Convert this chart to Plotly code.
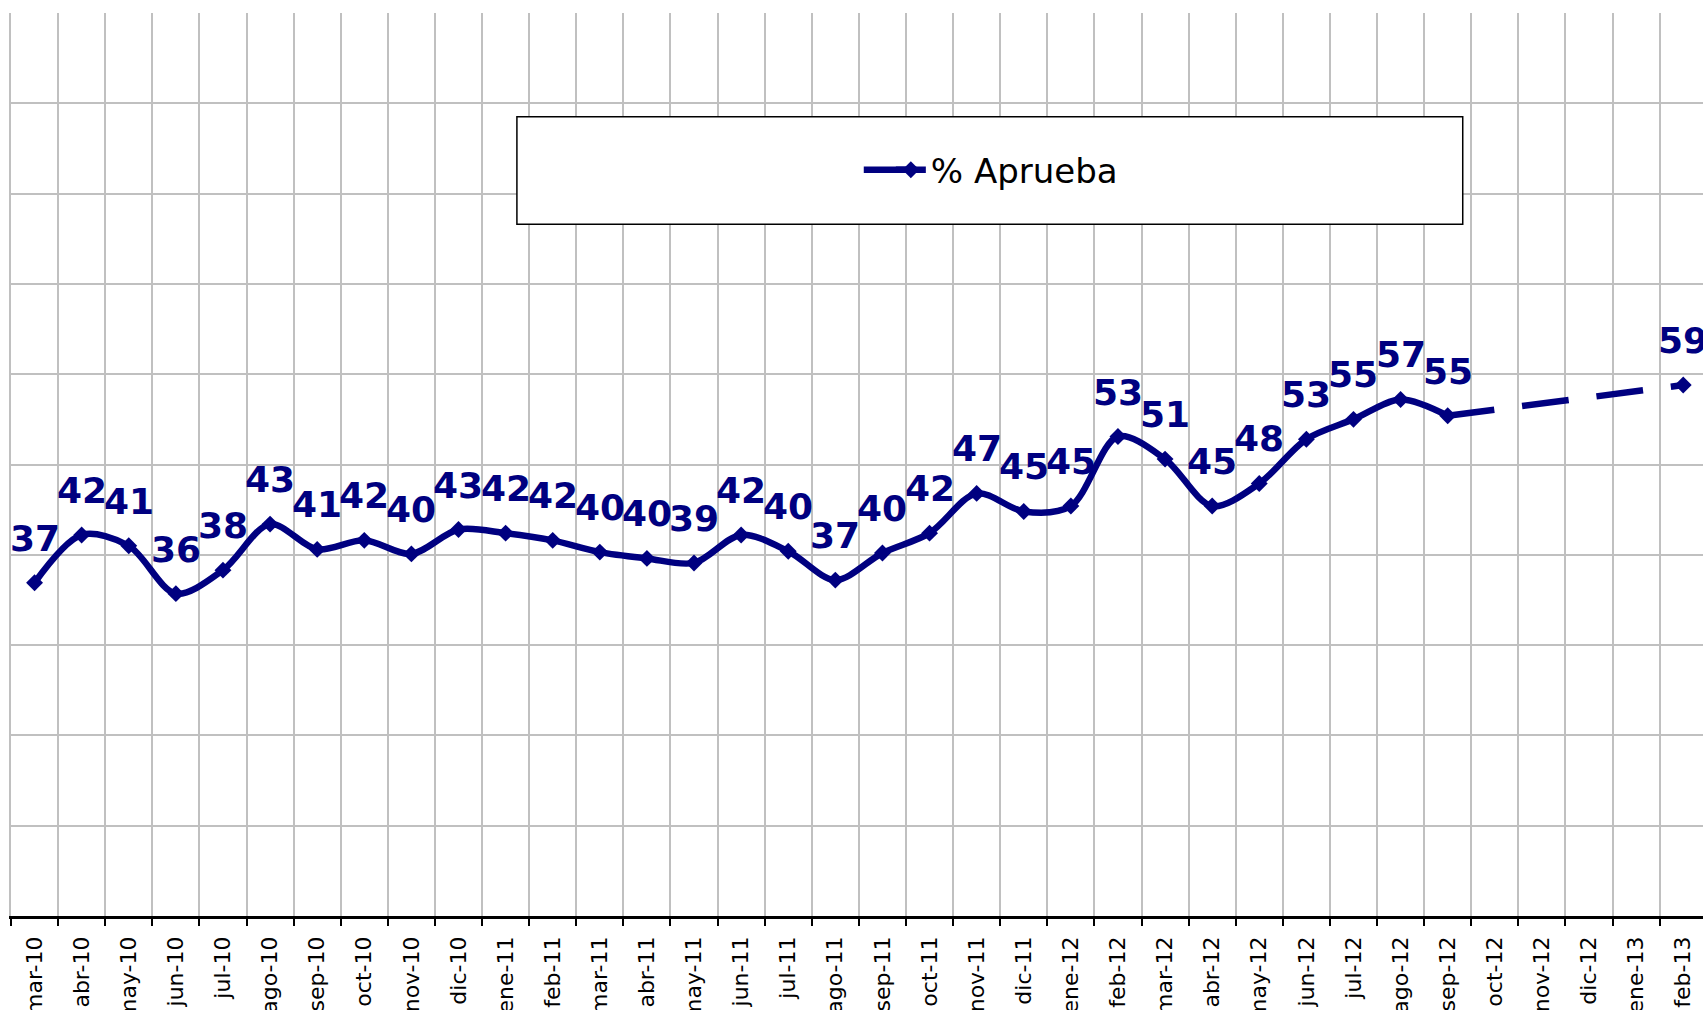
import plotly.graph_objects as go

months = ["mar-10", "abr-10", "may-10", "jun-10", "jul-10", "ago-10", "sep-10", "oct-10",
          "nov-10", "dic-10", "ene-11", "feb-11", "mar-11", "abr-11", "may-11", "jun-11",
          "jul-11", "ago-11", "sep-11", "oct-11", "nov-11", "dic-11", "ene-12", "feb-12",
          "mar-12", "abr-12", "may-12", "jun-12", "jul-12", "ago-12", "sep-12", "oct-12",
          "nov-12", "dic-12", "ene-13", "feb-13"]

# % aprueba (None = no survey that month)
aprueba = [36.9, 42.2, 41.0, 35.7, 38.3, 43.4, 40.6, 41.6,
           40.1, 42.8, 42.4, 41.6, 40.3, 39.6, 39.1, 42.2,
           40.4, 37.2, 40.2, 42.4, 46.8, 44.8, 45.4, 53.1,
           50.6, 45.4, 47.9, 52.8, 55.0, 57.2, 55.4, None,
           None, None, None, 58.8]

navy = "#000080"
grid = "#c0c0c0"

fig = go.Figure()

fig.add_trace(go.Scatter(
    x=months, y=aprueba, name="% Aprueba",
    mode="lines+markers",
    line=dict(color=navy, width=6.5, shape="spline", smoothing=0.9),
    marker=dict(symbol="diamond", size=13, color=navy),
    connectgaps=False,
))

# dashed link over the months without data
fig.add_trace(go.Scatter(
    x=[months[30], months[35]], y=[aprueba[30], aprueba[35]],
    mode="lines", showlegend=False, hoverinfo="skip",
    line=dict(color=navy, width=6.5, dash="47px,28px"),
))

for m, v in zip(months, aprueba):
    if v is None:
        continue
    fig.add_annotation(
        x=m, y=v, text=f"{v:.0f}", showarrow=False,
        yanchor="bottom", yshift=22,
        font=dict(family="DejaVu Sans", size=36, color=navy, weight="bold"),
    )

# legend frame
fig.add_shape(type="rect", xref="paper", yref="paper",
              x0=0.299, x1=0.858, y0=0.766, y1=0.885,
              fillcolor="white", line=dict(color="black", width=1.5), layer="above")
# longer legend key line, as in the original
fig.add_shape(type="line", xref="paper", yref="paper",
              x0=0.504, x1=0.535, y0=0.8265, y1=0.8265,
              line=dict(color=navy, width=6.5), layer="above")

fig.update_xaxes(
    type="category", categoryorder="array", categoryarray=months,
    range=[-0.5, 35.42], automargin=False,
    tickson="boundaries", ticks="outside", ticklen=7, tickwidth=2, tickcolor="black",
    tickangle=-90, ticklabelstandoff=9,
    tickfont=dict(family="DejaVu Sans", size=22, color="black"),
    showline=True, linecolor="black", linewidth=2.5,
    showgrid=True, gridcolor=grid, gridwidth=2,
    zeroline=False,
)
fig.update_yaxes(
    range=[0, 100], dtick=10, showticklabels=False, automargin=False,
    showgrid=True, gridcolor=grid, gridwidth=2,
    showline=True, linecolor=grid, linewidth=2,
    zeroline=False,
)

fig.update_layout(
    width=1703, height=1010,
    margin=dict(l=11, r=0, t=13, b=94),
    plot_bgcolor="white", paper_bgcolor="white",
    font=dict(family="DejaVu Sans", color="black"),
    showlegend=True,
    legend=dict(x=0.52, y=0.826, xanchor="left", yanchor="middle",
                bgcolor="rgba(0,0,0,0)", borderwidth=0,
                font=dict(family="DejaVu Sans", size=34, color="black")),
)

fig.write_html("out.html", config={"displayModeBar": False},
               post_script="document.body.style.margin='0';document.body.style.overflow='hidden';")
